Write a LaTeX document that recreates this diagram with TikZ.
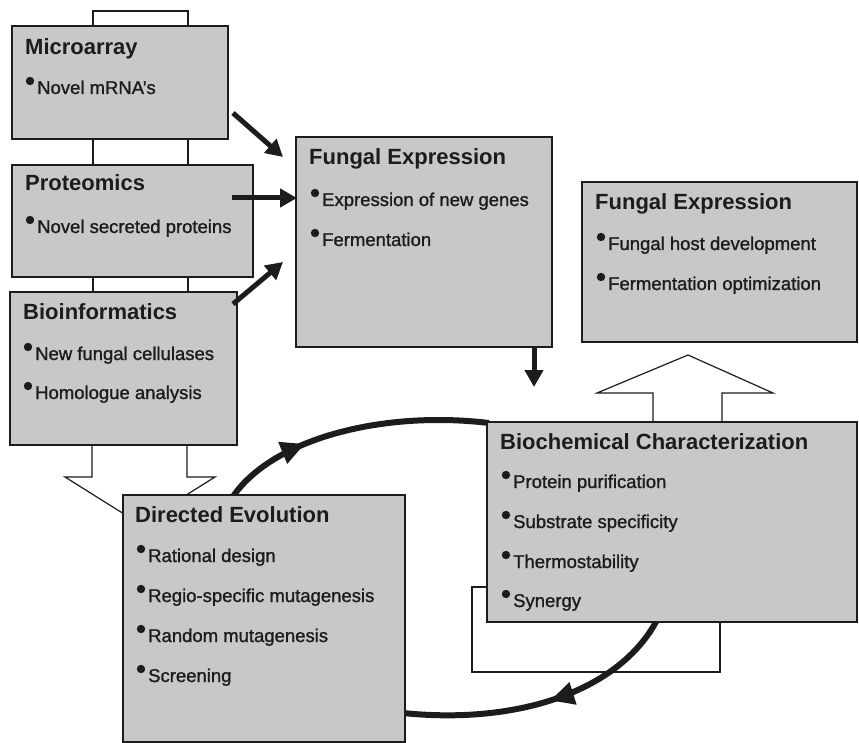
\documentclass[tikz,border=0pt]{standalone}
\usepackage{fontspec}
\setmainfont{Liberation Sans}
\newfontfamily\bodyfont[FakeBold=1.2]{Liberation Sans}
\usetikzlibrary{arrows.meta,decorations.markings}
\definecolor{boxfill}{RGB}{200,200,200}
\definecolor{ink}{RGB}{28,28,28}
\newcommand{\bitem}[4]{%
  \node[body] (#1) at (#2,#3) {#4};
  \fill[ink] ([xshift=-7pt,yshift=13pt]#1.base west) circle[radius=4.2pt];}
\begin{document}
\begin{tikzpicture}[x=1pt,y=-1pt,
  box/.style={draw=ink,line width=1.8pt,fill=boxfill,anchor=north west,inner sep=0pt,outer sep=0pt},
  title/.style={anchor=base west,inner sep=0pt,font=\bfseries\fontsize{22}{24}\selectfont,text=ink},
  body/.style={anchor=base west,inner sep=0pt,font=\bodyfont\fontsize{18.5}{20}\selectfont,text=ink},
  link/.style={draw=ink,line width=1.2pt},
  hollow/.style={draw=ink,line width=1.2pt,fill=white,line join=miter},
  bigarrow/.style={draw=ink,line width=5pt,-{Triangle[length=17pt,width=18pt]}},
  loopline/.style={draw=ink,line width=6pt}]
\useasboundingbox (0,0) rectangle (859,743);

% named endpoints
\coordinate (a1s) at (233,113); \coordinate (a1e) at (283,157);
\coordinate (a2s) at (232,198); \coordinate (a2e) at (297,198);
\coordinate (a3s) at (233,304); \coordinate (a3e) at (283,262);
\coordinate (a4s) at (534,346); \coordinate (a4e) at (534,387);
\coordinate (l1s) at (232,498); \coordinate (l1e) at (489,423);
\coordinate (l2s) at (657,620); \coordinate (l2e) at (403,713);

% thin connectors (behind boxes)
\draw[link] (93,28) -- (93,11) -- (188,11) -- (188,28);
\draw[link] (93,139) -- (93,165);
\draw[link] (188,139) -- (188,165);
\draw[link] (93,277) -- (93,292);
\draw[link] (188,277) -- (188,292);
\draw[hollow] (92,444) -- (92,477) -- (65,477) -- (140,524) -- (215,477) -- (187,477) -- (187,444);
\draw[hollow] (653,424) -- (653,393) -- (597,393) -- (688,355) -- (773,393) -- (722,393) -- (722,424);
\draw[link] (489,587) -- (472,587) -- (472,672) -- (720,672) -- (720,620);

% cycle arcs
\draw[loopline,postaction={decorate},
  decoration={markings,mark=at position 0.33 with {\arrow{Triangle[length=24pt,width=22pt]}}}]
  (l1s) .. controls (270,440) and (380,410) .. (l1e);
\draw[loopline,postaction={decorate},
  decoration={markings,mark=at position 0.48 with {\arrow{Triangle[length=24pt,width=22pt]}}}]
  (l2s) .. controls (620,690) and (520,725) .. (l2e);

% boxes
\node[box,minimum width=216pt,minimum height=113pt] (micro) at (12,26) {};
\node[box,minimum width=241pt,minimum height=112pt] (prot) at (12,165) {};
\node[box,minimum width=227pt,minimum height=153pt] (bio) at (10,292) {};
\node[box,minimum width=256pt,minimum height=210pt] (fe1) at (296,137) {};
\node[box,minimum width=275pt,minimum height=160pt] (fe2) at (582,182) {};
\node[box,minimum width=370pt,minimum height=200pt] (bc) at (487,422) {};
\node[box,minimum width=282pt,minimum height=247pt] (de) at (123,495) {};

% texts
\node[title] (microT) at (25,55) {Microarray};
\bitem{microA}{37}{94}{Novel mRNA’s}
\node[title] (protT) at (25,191) {Proteomics};
\bitem{protA}{37}{233}{Novel secreted proteins}
\node[title] (bioT) at (23,319) {Bioinformatics};
\bitem{bioA}{35}{360}{New fungal cellulases}
\bitem{bioB}{35}{399}{Homologue analysis}
\node[title] (fe1T) at (309,165) {Fungal Expression};
\bitem{fe1A}{322}{206}{Expression of new genes}
\bitem{fe1B}{322}{246}{Fermentation}
\node[title] (fe2T) at (595,210) {Fungal Expression};
\bitem{fe2A}{608}{250}{Fungal host development}
\bitem{fe2B}{608}{290}{Fermentation optimization}
\node[title] (bcT) at (500,449) {Biochemical Characterization};
\bitem{bcA}{513}{488}{Protein purification}
\bitem{bcB}{513}{528}{Substrate specificity}
\bitem{bcC}{513}{568}{Thermostability}
\bitem{bcD}{513}{607}{Synergy}
\node[title] (deT) at (135,522) {Directed Evolution};
\bitem{deA}{148}{562}{Rational design}
\bitem{deB}{148}{602}{Regio-specific mutagenesis}
\bitem{deC}{148}{642}{Random mutagenesis}
\bitem{deD}{148}{682}{Screening}

% thick arrows
\draw[bigarrow] (a1s) -- (a1e);
\draw[bigarrow] (a2s) -- (a2e);
\draw[bigarrow] (a3s) -- (a3e);
\draw[bigarrow] (a4s) -- (a4e);
\end{tikzpicture}
\end{document}
